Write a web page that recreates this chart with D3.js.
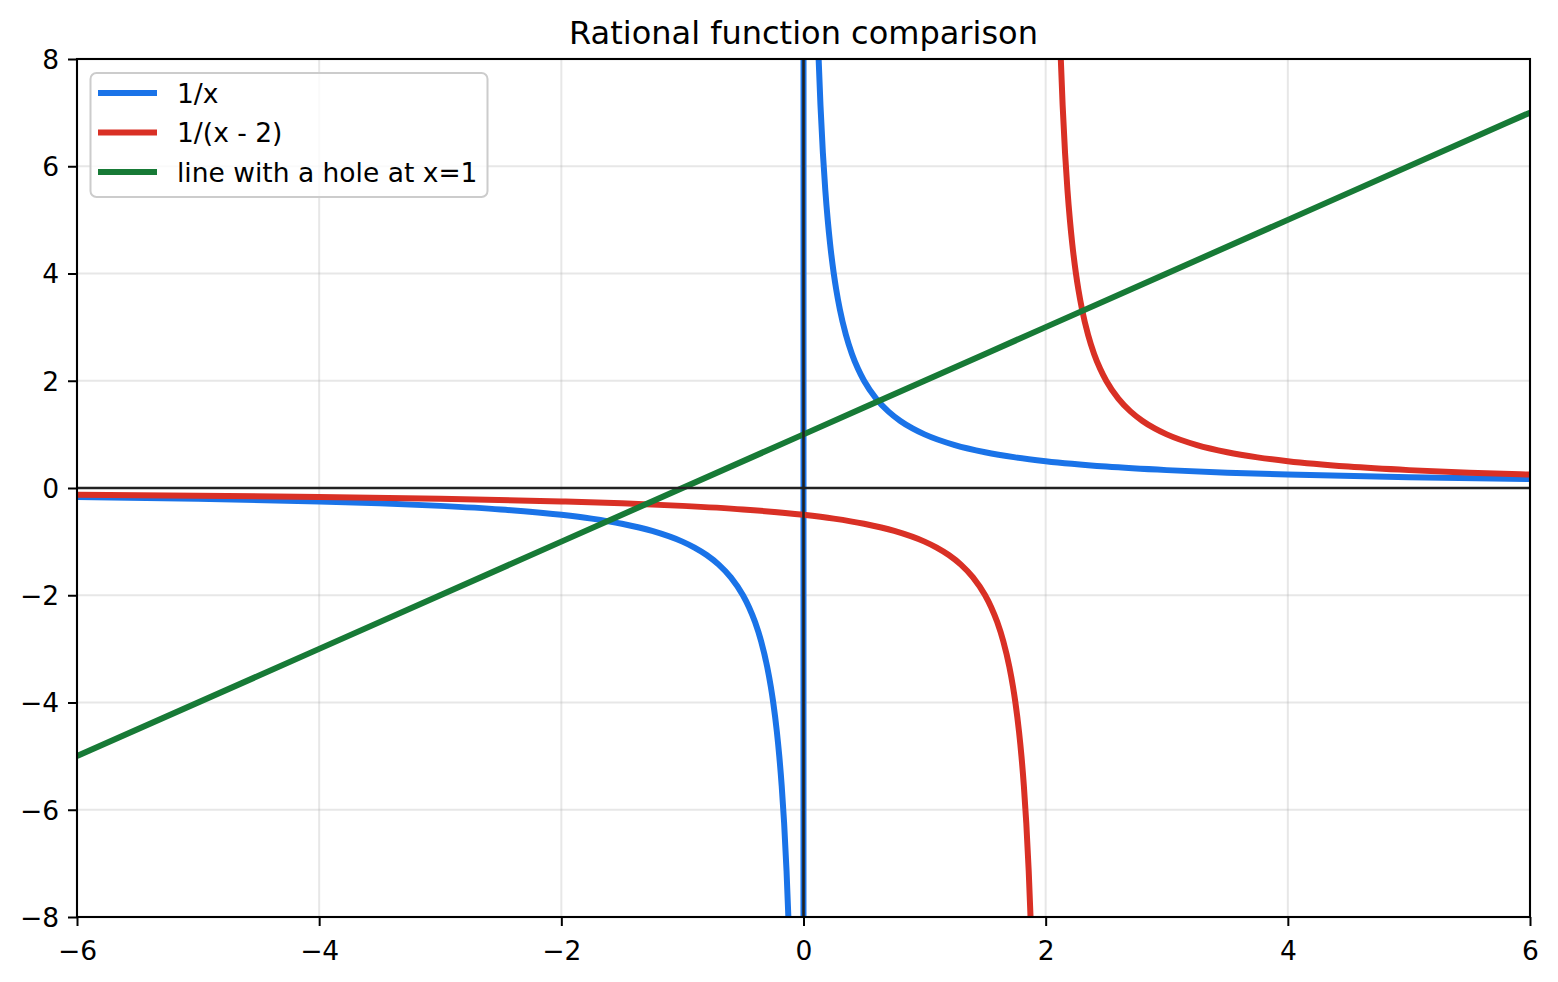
<!DOCTYPE html>
<html>
<head>
<meta charset="utf-8">
<script src="https://cdn.jsdelivr.net/npm/d3@7/dist/d3.min.js"></script>
<style>
  html, body { margin: 0; padding: 0; background: #ffffff; }
  svg { display: block; font-family: "DejaVu Sans", sans-serif; }
</style>
</head>
<body>
<svg id="chart" width="1558" height="982"></svg>
<script>
// ---- data ----
const title = "Rational function comparison";
const xTicks = [-6, -4, -2, 0, 2, 4, 6];
const xTickLabels = ["\u22126", "\u22124", "\u22122", "0", "2", "4", "6"];
const yTicks = [-8, -6, -4, -2, 0, 2, 4, 6, 8];
const yTickLabels = ["\u22128", "\u22126", "\u22124", "\u22122", "0", "2", "4", "6", "8"];
const seriesNames = ["1/x", "1/(x - 2)", "line with a hole at x=1"];
const seriesColors = ["#1a73e8", "#d93025", "#177a36"];

// 1/x (sampled; the steep connection across x = 0 is part of the drawn line)
const blueX = [-6, -5, -4, -3.5, -3, -2.5, -2, -1.75, -1.5, -1.25, -1, -0.9, -0.8, -0.7, -0.6, -0.5, -0.45, -0.4, -0.35, -0.3,
               -0.27, -0.25, -0.22, -0.2, -0.18, -0.16, -0.14, -0.125, -0.11, -0.1, -0.005,
               0.005, 0.1, 0.11, 0.125, 0.14, 0.16, 0.18, 0.2, 0.22, 0.25, 0.27, 0.3, 0.35, 0.4, 0.45, 0.5, 0.6, 0.7, 0.8,
               0.9, 1, 1.25, 1.5, 1.75, 2, 2.5, 3, 3.5, 4, 5, 6];
const blueY = [-0.1667, -0.2, -0.25, -0.2857, -0.3333, -0.4, -0.5, -0.5714, -0.6667, -0.8, -1, -1.1111, -1.25, -1.4286, -1.6667, -2, -2.2222, -2.5, -2.8571, -3.3333,
               -3.7037, -4, -4.5455, -5, -5.5556, -6.25, -7.1429, -8, -9.0909, -10, -200,
               200, 10, 9.0909, 8, 7.1429, 6.25, 5.5556, 5, 4.5455, 4, 3.7037, 3.3333, 2.8571, 2.5, 2.2222, 2, 1.6667, 1.4286, 1.25,
               1.1111, 1, 0.8, 0.6667, 0.5714, 0.5, 0.4, 0.3333, 0.2857, 0.25, 0.2, 0.1667];

// 1/(x - 2) (break at x = 2)
const redX = [-6, -5, -4, -3, -2, -1.5, -1, -0.5, 0, 0.25, 0.5, 0.75, 1, 1.1, 1.2, 1.3, 1.4, 1.5, 1.55, 1.6,
              1.65, 1.7, 1.73, 1.75, 1.78, 1.8, 1.82, 1.84, 1.86, 1.875, 1.89, 1.9,
              2,
              2.1, 2.11, 2.125, 2.14, 2.16, 2.18, 2.2, 2.22, 2.25, 2.27, 2.3, 2.35, 2.4, 2.45, 2.5, 2.6, 2.7, 2.8,
              2.9, 3, 3.25, 3.5, 3.75, 4, 4.5, 5, 5.5, 6];
const redY = [-0.125, -0.1429, -0.1667, -0.2, -0.25, -0.2857, -0.3333, -0.4, -0.5, -0.5714, -0.6667, -0.8, -1, -1.1111, -1.25, -1.4286, -1.6667, -2, -2.2222, -2.5,
              -2.8571, -3.3333, -3.7037, -4, -4.5455, -5, -5.5556, -6.25, -7.1429, -8, -9.0909, -10,
              null,
              10, 9.0909, 8, 7.1429, 6.25, 5.5556, 5, 4.5455, 4, 3.7037, 3.3333, 2.8571, 2.5, 2.2222, 2, 1.6667, 1.4286, 1.25,
              1.1111, 1, 0.8, 0.6667, 0.5714, 0.5, 0.4, 0.3333, 0.2857, 0.25];

// line y = x + 1 (hole at x = 1 is not visible at this scale)
const greenX = [-6, -4, -2, 0, 1, 2, 4, 6];
const greenY = [-5, -3, -1, 1, 2, 3, 5, 7];

// ---- layout ----
const W = 1558, H = 982;
const plot = { left: 77, right: 1530, top: 59, bottom: 917 };
const LW = 6;

const svg = d3.select("#chart");
svg.append("rect").attr("width", W).attr("height", H).attr("fill", "#ffffff");

const x = d3.scaleLinear().domain([-6, 6]).range([plot.left, plot.right]);
const y = d3.scaleLinear().domain([-8, 8]).range([plot.bottom, plot.top]);

// clip
svg.append("defs").append("clipPath").attr("id", "plotclip")
  .append("rect")
  .attr("x", plot.left).attr("y", plot.top)
  .attr("width", plot.right - plot.left).attr("height", plot.bottom - plot.top);

// grid
const grid = svg.append("g");
grid.selectAll("line.gx").data(xTicks).join("line")
  .attr("x1", d => x(d)).attr("x2", d => x(d))
  .attr("y1", plot.top).attr("y2", plot.bottom)
  .attr("stroke", "#b0b0b0").attr("stroke-opacity", 0.3).attr("stroke-width", 2);
grid.selectAll("line.gy").data(yTicks).join("line")
  .attr("y1", d => y(d)).attr("y2", d => y(d))
  .attr("x1", plot.left).attr("x2", plot.right)
  .attr("stroke", "#b0b0b0").attr("stroke-opacity", 0.3).attr("stroke-width", 2);

// series
const toPts = (xs, ys) => xs.map((v, i) => ({ x: v, y: ys[i] }));
const series = [toPts(blueX, blueY), toPts(redX, redY), toPts(greenX, greenY)];
const lineGen = d3.line()
  .defined(d => d.y !== null)
  .x(d => x(d.x)).y(d => y(d.y))
  .curve(d3.curveMonotoneX);

const lines = svg.append("g").attr("clip-path", "url(#plotclip)");
series.forEach((pts, i) => {
  lines.append("path")
    .datum(pts)
    .attr("d", lineGen)
    .attr("fill", "none")
    .attr("stroke", seriesColors[i])
    .attr("stroke-width", LW)
    .attr("stroke-linejoin", "round")
    .attr("stroke-linecap", "butt");
});

// reference lines at x=0 and y=0
lines.append("line")
  .attr("x1", plot.left).attr("x2", plot.right)
  .attr("y1", y(0)).attr("y2", y(0))
  .attr("stroke", "#222222").attr("stroke-width", 2.6);
lines.append("line")
  .attr("x1", x(0)).attr("x2", x(0))
  .attr("y1", plot.top).attr("y2", plot.bottom)
  .attr("stroke", "#222222").attr("stroke-width", 2.6);

// axes
const xAxis = d3.axisBottom(x).tickValues(xTicks)
  .tickFormat((d, i) => xTickLabels[i]).tickSize(9).tickPadding(9);
const yAxis = d3.axisLeft(y).tickValues(yTicks)
  .tickFormat((d, i) => yTickLabels[i]).tickSize(9).tickPadding(9);

const gx = svg.append("g").attr("transform", `translate(0,${plot.bottom})`).call(xAxis);
const gy = svg.append("g").attr("transform", `translate(${plot.left},0)`).call(yAxis);
[gx, gy].forEach(g => {
  g.select(".domain").remove();
  g.selectAll(".tick line").attr("stroke", "#000").attr("stroke-width", 2);
  g.selectAll(".tick text")
    .attr("fill", "#000")
    .style("font-family", "'DejaVu Sans', sans-serif")
    .style("font-size", "26.5px");
});
gx.selectAll(".tick text").attr("dy", "0.95em");
gy.selectAll(".tick text").attr("dy", "0.35em");

// spines
svg.append("rect")
  .attr("x", plot.left).attr("y", plot.top)
  .attr("width", plot.right - plot.left).attr("height", plot.bottom - plot.top)
  .attr("fill", "none").attr("stroke", "#000").attr("stroke-width", 2.1);

// title
svg.append("text")
  .attr("x", (plot.left + plot.right) / 2).attr("y", 44)
  .attr("text-anchor", "middle")
  .style("font-size", "32px")
  .attr("fill", "#000")
  .text(title);

// legend
const leg = svg.append("g");
leg.append("rect")
  .attr("x", 90.5).attr("y", 73).attr("width", 397).attr("height", 124)
  .attr("rx", 6).attr("ry", 6)
  .attr("fill", "#ffffff").attr("fill-opacity", 0.8)
  .attr("stroke", "#cccccc").attr("stroke-width", 2);
const rowY = [93, 132.5, 172];
seriesNames.forEach((name, i) => {
  leg.append("line")
    .attr("x1", 98).attr("x2", 157)
    .attr("y1", rowY[i]).attr("y2", rowY[i])
    .attr("stroke", seriesColors[i]).attr("stroke-width", LW);
  leg.append("text")
    .attr("x", 177).attr("y", rowY[i]).attr("dy", "0.36em")
    .style("font-size", "26.5px").attr("fill", "#000")
    .text(name);
});
</script>
</body>
</html>
